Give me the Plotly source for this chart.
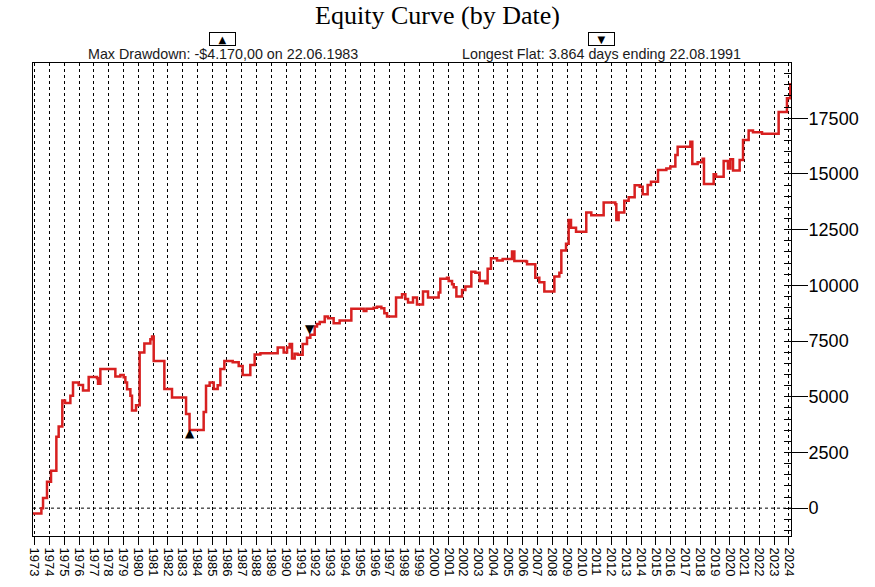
import plotly.graph_objects as go

# ---- data ----
dates = [
    "1972-11-20", "1973-06-15", "1973-07-26", "1973-11-01", "1974-02-08", "1974-06-20",
    "1974-08-16", "1974-11-14", "1975-01-20", "1975-06-01", "1975-08-05", "1975-12-22",
    "1976-04-08", "1976-08-26", "1977-03-20", "1977-04-14", "1977-06-10", "1978-06-16",
    "1978-10-18", "1979-01-08", "1979-02-18", "1979-04-01", "1979-06-22", "1979-08-01",
    "1979-11-08", "1980-02-06", "1980-06-01", "1980-10-28", "1980-12-08", "1981-01-18",
    "1981-10-08", "1982-04-15", "1983-03-28", "1983-06-22", "1984-06-05", "1984-08-02",
    "1984-10-31", "1985-02-08", "1985-05-17", "1985-07-22", "1985-10-29", "1986-05-23",
    "1986-10-18", "1987-01-24", "1987-08-01", "1987-11-16", "1988-04-05", "1989-06-07",
    "1989-11-02", "1990-01-24", "1990-03-30", "1990-05-27", "1990-07-31", "1990-10-13",
    "1991-02-14", "1991-06-01", "1991-08-22", "1991-12-08", "1992-02-03", "1992-04-10",
    "1992-08-11", "1992-11-01", "1993-03-20", "1993-08-15", "1994-05-31", "1995-04-01",
    "1995-06-06", "1995-12-03", "1996-02-24", "1996-06-10", "1996-08-23", "1996-10-28",
    "1997-06-08", "1997-11-03", "1998-01-24", "1998-03-31", "1998-08-01", "1998-11-07",
    "1999-04-05", "1999-08-07", "2000-04-25", "2000-06-05", "2000-11-17", "2000-12-29",
    "2001-03-22", "2001-05-02", "2001-07-07", "2001-11-24", "2002-02-14", "2002-07-11",
    "2002-10-18", "2003-02-02", "2003-06-22", "2003-08-18", "2003-11-08", "2004-04-05",
    "2004-08-23", "2005-04-11", "2005-06-08", "2006-03-24", "2006-04-17", "2006-11-07",
    "2007-02-14", "2007-06-18", "2008-02-21", "2008-06-23", "2008-08-11", "2008-12-05",
    "2009-02-08", "2009-04-07", "2009-08-09", "2010-04-19", "2010-08-21", "2011-06-22",
    "2012-04-05", "2012-04-30", "2012-06-26", "2012-11-13", "2013-03-01", "2013-07-27",
    "2013-11-28", "2014-02-10", "2014-06-13", "2014-09-03", "2015-02-24", "2015-09-17",
    "2015-12-25", "2016-04-27", "2016-06-23", "2017-05-02", "2017-06-20", "2017-10-29",
    "2018-03-02", "2018-04-04", "2018-11-29", "2019-01-26", "2019-08-03", "2019-11-17",
    "2020-01-14", "2020-03-21", "2020-09-01", "2020-11-23", "2021-04-11", "2021-07-27",
    "2022-03-07", "2023-04-22", "2023-11-13", "2024-02-04", "2024-02-20",
]
equity = [
    -240, 0, 460, 1180, 1675, 3200,
    3660, 4830, 4725, 5040, 5640, 5530,
    5280, 5890, 5830, 5580, 6250, 5905,
    5980, 5880, 5640, 5340, 5040, 4380,
    4620, 6985, 7390, 7580, 7700, 6600,
    5350, 4965, 4230, 3510, 4320, 5490,
    5640, 5350, 5520, 6240, 6610, 6550,
    6385, 5980, 6430, 6895, 6955, 7210,
    6985, 7210, 7370, 6715, 6925, 6880,
    7370, 7650, 7780, 8150, 8270, 8360,
    8600, 8525, 8300, 8420, 8955, 8850,
    8955, 9000, 9045, 8975, 8750, 8600,
    9450, 9600, 9390, 9225, 9450, 9135,
    9720, 9450, 9675, 10300, 10345, 10200,
    10050, 9915, 9495, 9795, 9945, 10615,
    10570, 10200, 10095, 10740, 11220, 11110,
    11185, 11515, 11095, 11065, 10950, 10345,
    10140, 9720, 10395, 10570, 11560, 11870,
    12935, 12590, 12410, 13265, 13145, 13715,
    13640, 12935, 13265, 13800, 13955, 14495,
    14430, 14090, 14505, 14655, 15180, 15240,
    15330, 15855, 16225, 16450, 15450, 15525,
    15685, 14550, 14985, 14880, 15585, 15240,
    15660, 15150, 15630, 16525, 16945, 16870,
    16810, 17780, 18400, 19025, 19025,
]

max_dd_date = "1983-06-22"
max_dd_value = 3510
flat_end_date = "1991-08-22"
flat_end_value = 7780

year_ticks = list(range(1973, 2025))
tick_vals = [f"{y}-01-01" for y in year_ticks]
tick_text = [str(y) for y in year_ticks]

title_text = "Equity Curve (by Date)"
dd_text = "Max Drawdown: -$4.170,00 on 22.06.1983"
flat_text = "Longest Flat: 3.864 days ending 22.08.1991"

SANS = "Liberation Sans, Arial, sans-serif"
SERIF = "Liberation Serif, Times New Roman, serif"

fig = go.Figure()
fig.add_trace(go.Scatter(
    x=dates, y=equity, mode="lines", line_shape="hv",
    line=dict(color="#d82020", width=2.5), hoverinfo="skip",
))

fig.add_shape(type="line", xref="paper", x0=0, x1=1, yref="y", y0=0, y1=0,
              line=dict(color="black", width=1, dash="3px,3px"), layer="below")

annotations = [
    dict(x=max_dd_date, y=max_dd_value, xref="x", yref="y", text="▲", showarrow=False,
         yshift=-3, font=dict(family="DejaVu Sans", size=12, color="black")),
    dict(x=flat_end_date, y=flat_end_value, xref="x", yref="y", text="▼", showarrow=False,
         yshift=6, font=dict(family="DejaVu Sans", size=12, color="black")),
    dict(x=0.25, y=1, xref="paper", yref="paper", xanchor="center", yanchor="middle", yshift=9,
         text=dd_text, showarrow=False, font=dict(family=SANS, size=14.3, color="#1a1a1a")),
    dict(x=0.75, y=1, xref="paper", yref="paper", xanchor="center", yanchor="middle", yshift=9,
         text=flat_text, showarrow=False, font=dict(family=SANS, size=14.3, color="#1a1a1a")),
    dict(x=0.25, y=1, xref="paper", yref="paper", xanchor="center", yanchor="middle", yshift=24,
         text="▲", showarrow=False, bordercolor="black", borderwidth=1, borderpad=0,
         width=25, height=12, font=dict(family="DejaVu Sans", size=10, color="black")),
    dict(x=0.75, y=1, xref="paper", yref="paper", xanchor="center", yanchor="middle", yshift=24,
         text="▼", showarrow=False, bordercolor="black", borderwidth=1, borderpad=0,
         width=25, height=12, font=dict(family="DejaVu Sans", size=10, color="black")),
]

fig.update_layout(
    width=875, height=587,
    margin=dict(l=33, r=84, t=63, b=51),
    paper_bgcolor="white", plot_bgcolor="white",
    showlegend=False,
    title=dict(text=title_text, x=0.5, xref="container", xanchor="center",
               y=0.975, yref="container", yanchor="middle",
               font=dict(family=SERIF, size=26, color="black")),
    annotations=annotations,
)

fig.update_xaxes(
    type="date", range=["1972-11-20", "2024-02-21"], automargin=False,
    tickmode="array", tickvals=tick_vals, ticktext=tick_text, tickangle=90,
    ticks="outside", ticklen=8, tickcolor="black", tickwidth=1,
    showgrid=True, gridcolor="black", gridwidth=1, griddash="3px,3px",
    showline=True, linecolor="black", linewidth=1, mirror=True, zeroline=False,
    tickfont=dict(family=SANS, size=13, color="black"),
)
fig.update_yaxes(
    side="right", range=[-1250, 19980], automargin=False,
    tickmode="linear", tick0=0, dtick=2500, tickformat="d",
    ticks="outside", ticklen=16, tickcolor="black", tickwidth=1,
    ticklabelstandoff=-3,
    minor=dict(ticks="inside", ticklen=7, tick0=0, dtick=500, tickcolor="black", showgrid=False),
    showgrid=False, zeroline=False,
    showline=True, linecolor="black", linewidth=1, mirror=True,
    tickfont=dict(family=SANS, size=18, color="black"),
)

fig.write_html("out.html", config={"displayModeBar": False},
               post_script="document.body.style.margin='0';")
